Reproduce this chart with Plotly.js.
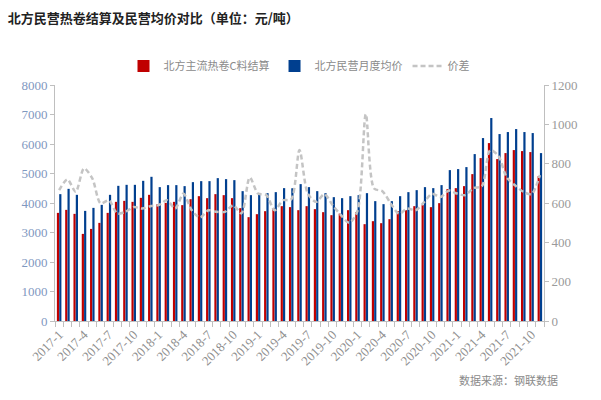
<!DOCTYPE html>
<html>
<head>
<meta charset="utf-8">
<script src="https://cdn.plot.ly/plotly-3.0.1.min.js"></script>
<style>html,body{margin:0;padding:0;background:#fff;}#chart{width:601px;height:400px;}</style>
</head>
<body>
<div id="chart"></div>
<script>
const categories = [
  "2017-1","2017-2","2017-3","2017-4","2017-5","2017-6","2017-7","2017-8","2017-9","2017-10","2017-11","2017-12",
  "2018-1","2018-2","2018-3","2018-4","2018-5","2018-6","2018-7","2018-8","2018-9","2018-10","2018-11","2018-12",
  "2019-1","2019-2","2019-3","2019-4","2019-5","2019-6","2019-7","2019-8","2019-9","2019-10","2019-11","2019-12",
  "2020-1","2020-2","2020-3","2020-4","2020-5","2020-6","2020-7","2020-8","2020-9","2020-10","2020-11","2020-12",
  "2021-1","2021-2","2021-3","2021-4","2021-5","2021-6","2021-7","2021-8","2021-9","2021-10","2021-11"
];
const settlement = [
  3665,3767,3632,2953,3122,3326,3665,4039,4073,4039,4175,4277,
  3961,4005,4039,3927,4130,4232,4164,4300,4266,4164,3825,3520,
  3621,3723,3825,3893,3860,3757,3893,3791,3689,3587,3640,3757,
  3689,3282,3384,3316,3452,3723,3757,3893,3927,3859,3995,4470,
  4504,4572,4979,5522,6031,5488,5692,5794,5760,5726,4911
];
const avgPrice = [
  4300,4480,4277,3733,3835,3937,4277,4582,4616,4616,4752,4888,
  4538,4606,4606,4572,4707,4741,4741,4843,4809,4775,4402,4266,
  4300,4334,4368,4504,4500,4640,4538,4402,4334,4198,4164,4232,
  4266,4334,4063,3961,4063,4232,4368,4436,4538,4504,4606,5115,
  5149,5217,5658,6201,6880,6337,6405,6506,6405,6371,5692
];
const spread = [
  665,720,657,776,725,598,614,547,555,580,572,584,
  589,614,572,648,563,526,563,555,555,589,547,730,
  648,640,563,614,618,869,648,606,645,589,538,499,
  560,1052,674,660,598,545,572,563,603,647,630,663,
  648,640,676,685,869,840,730,690,657,645,742
];
const seriesNames = ["北方主流热卷C料结算","北方民营月度均价","价差"];
const tickText = categories.map((c,i) => (i % 3 === 0 ? c : ""));

const traces = [
  {type:"bar", name:seriesNames[0], x:categories, y:settlement, marker:{color:"#C00000"}, yaxis:"y"},
  {type:"bar", name:seriesNames[1], x:categories, y:avgPrice, marker:{color:"#003F8F"}, yaxis:"y"},
  {type:"scatter", mode:"lines", name:seriesNames[2], x:categories, y:spread, yaxis:"y2",
   line:{color:"#C4C4C4", width:2.5, dash:"5px,3px", shape:"spline", smoothing:0.8}}
];

const axisGray = "#BFBFBF";
const layout = {
  width:601, height:400,
  margin:{l:55, r:57, t:85, b:79, pad:0},
  paper_bgcolor:"#fff", plot_bgcolor:"#fff",
  barmode:"group", bargap:0.44, bargroupgap:0.05,
  showlegend:true,
  title:{text:"北方民营热卷结算及民营均价对比（单位：元/吨）", x:0.013, xref:"container", xanchor:"left",
         y:0.955, yref:"container", yanchor:"middle",
         font:{family:"Noto Sans CJK SC", size:13, color:"#222", weight:"bold"}},
  legend:{orientation:"h", x:0.5, xanchor:"center", y:1.08, yanchor:"middle",
          font:{family:"Noto Sans CJK SC", size:11, color:"#8a8a8a"}, itemwidth:30, tracegroupgap:0},
  xaxis:{type:"category", tickmode:"array", tickvals:categories, ticktext:tickText, tickangle:-45,
         tickson:"boundaries", ticks:"outside", ticklen:5, tickcolor:axisGray,
         showline:true, linecolor:axisGray, linewidth:1, showgrid:false, zeroline:false,
         tickfont:{family:"Liberation Serif", size:13, color:"#8f8f8f"}},
  yaxis:{range:[0,8000], dtick:1000, ticks:"outside", ticklen:4, tickcolor:axisGray,
         showline:true, linecolor:axisGray, linewidth:1, showgrid:false, zeroline:false,
         tickfont:{family:"Liberation Serif", size:13, color:"#7F98BF"}},
  yaxis2:{range:[0,1200], dtick:200, overlaying:"y", side:"right", ticks:"outside", ticklen:4, tickcolor:axisGray,
         showline:true, linecolor:axisGray, linewidth:1, showgrid:false, zeroline:false,
         tickfont:{family:"Liberation Serif", size:13, color:"#9a9a9a"}},
  annotations:[{text:"数据来源：钢联数据", xref:"paper", yref:"paper", x:1.033, y:-0.25,
                xanchor:"right", yanchor:"middle", showarrow:false,
                font:{family:"Noto Sans CJK SC", size:11, color:"#8a8a8a"}}]
};

Plotly.newPlot("chart", traces, layout, {displayModeBar:false, staticPlot:true});
</script>
</body>
</html>
